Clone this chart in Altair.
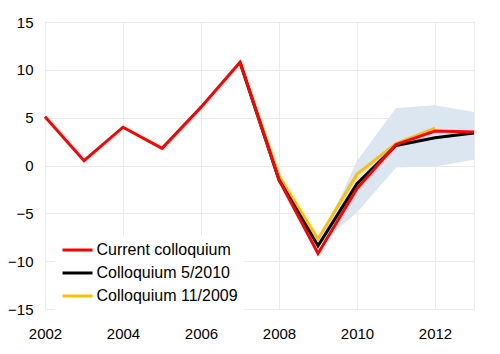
import altair as alt
import pandas as pd

# ---- data ----
years_current = [2002, 2003, 2004, 2005, 2006, 2007, 2008, 2009, 2010, 2011, 2012, 2013]
current = [5.1, 0.5, 4.0, 1.8, 6.1, 10.8, -1.5, -9.2, -2.4, 2.2, 3.6, 3.5]

years_may2010 = [2007, 2008, 2009, 2010, 2011, 2012, 2013]
may2010 = [10.8, -1.5, -8.4, -1.9, 2.1, 2.9, 3.4]

years_nov2009 = [2007, 2008, 2009, 2010, 2011, 2012]
nov2009 = [10.8, -1.1, -7.7, -0.9, 2.3, 3.9]

band_years = [2009, 2010, 2011, 2012, 2013]
band_low = [-8.4, -4.9, -0.2, -0.1, 0.6]
band_high = [-8.4, 0.5, 6.0, 6.3, 5.6]

series_names = ["Current colloquium", "Colloquium 5/2010", "Colloquium 11/2009"]
series_colors = ["#FF0000", "#000000", "#FFC000"]

x_ticks = [2002, 2004, 2006, 2008, 2010, 2012]
y_ticks = [-15, -10, -5, 0, 5, 10, 15]

FONT = "Liberation Sans"
GRID = "#EBEBEB"

rows = []
for name, ys, vs in [
    (series_names[0], years_current, current),
    (series_names[1], years_may2010, may2010),
    (series_names[2], years_nov2009, nov2009),
]:
    for y, v in zip(ys, vs):
        rows.append({"year": y, "value": v, "series": name})
lines_df = pd.DataFrame(rows)
band_df = pd.DataFrame({"year": band_years, "low": band_low, "high": band_high})

x_scale = alt.Scale(domain=[2002, 2013], nice=False, zero=False)
y_scale = alt.Scale(domain=[-15, 15], nice=False)

x_enc = alt.X(
    "year:Q",
    scale=x_scale,
    axis=alt.Axis(
        values=x_ticks, format="d", title=None, grid=True, gridColor=GRID,
        domain=False, ticks=False, labelFont=FONT, labelFontSize=15,
        labelColor="#000000", labelPadding=17, labelFlush=False,
    ),
)
y_axis = alt.Axis(
    values=y_ticks, title=None, grid=True, gridColor=GRID, domain=False,
    ticks=False, labelFont=FONT, labelFontSize=15, labelColor="#000000",
    labelPadding=12, labelFlush=False,
)

band = alt.Chart(band_df).mark_area(color="#DCE6F1", opacity=1).encode(
    x=x_enc,
    y=alt.Y("low:Q", scale=y_scale, axis=y_axis),
    y2="high:Q",
)

color_scale = alt.Scale(domain=series_names, range=series_colors)

legend = alt.Legend(
    title=None,
    orient="none",
    legendX=10,
    legendY=214,
    symbolType="M-3,0H3",
    symbolSize=100,
    symbolStrokeWidth=3,
    symbolOffset=8.5,
    labelOffset=11,
    labelFont=FONT,
    labelFontSize=16,
    labelColor="#000000",
    rowPadding=7,
    fillColor="#FFFFFF",
    padding=6,
)


def line_layer(name):
    return alt.Chart(lines_df).transform_filter(
        alt.datum.series == name
    ).mark_line(strokeWidth=3, strokeJoin="miter").encode(
        x=alt.X("year:Q", scale=x_scale),
        y=alt.Y("value:Q", scale=y_scale),
        color=alt.Color("series:N", scale=color_scale, legend=legend),
    )


chart = alt.layer(
    band,
    line_layer(series_names[2]),
    line_layer(series_names[1]),
    line_layer(series_names[0]),
).properties(
    width=429,
    height=287,
    autosize=alt.AutoSizeParams(type="none"),
    padding={"left": 45, "top": 22, "right": 26, "bottom": 45},
    background="#FFFFFF",
).configure_view(
    stroke=GRID
)

chart.save("out.html", embed_options={"renderer": "svg", "actions": False})
